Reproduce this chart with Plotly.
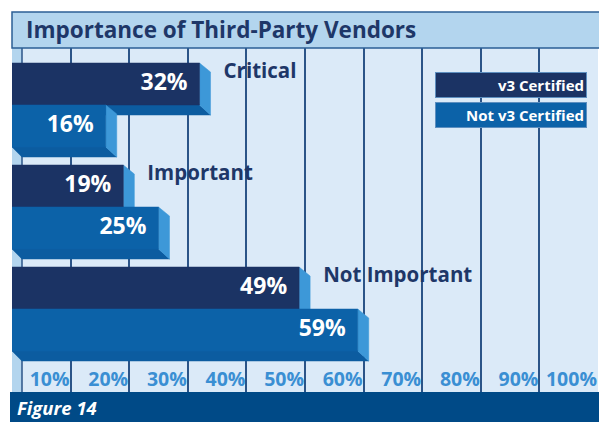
import plotly.graph_objects as go

# data
categories = ["Critical", "Important", "Not Important"]
v3_certified = [32, 19, 49]
not_v3_certified = [16, 25, 59]
series_names = ["v3 Certified", "Not v3 Certified"]
tick_values = [10, 20, 30, 40, 50, 60, 70, 80, 90, 100]
tick_labels = ["10%", "20%", "30%", "40%", "50%", "60%", "70%", "80%", "90%", "100%"]

W, H = 599, 422
L, R, T, B = 12, 1, 48, 30
PW = W - L - R          # plot width in px
PH = H - T - B          # plot height in px
PX = 100 / PW           # one pixel in x data units

FONT = "Open Sans"
NAVY = "#1b3364"
BLUE = "#0c62a8"
SIDE = "#3d98d8"
DEPTH = "#0c5ca0"

BAR_H = 42
PITCH = 102
TOP0 = 15
DX = 11 * PX
DY = 10


def poly(xs, ys, color):
    return go.Scatter(x=xs + [xs[0]], y=ys + [ys[0]], mode="lines", fill="toself",
                      fillcolor=color, line=dict(color=color, width=0.5),
                      hoverinfo="skip", showlegend=False)


def bar3d(value, top, face):
    bot = top + BAR_H
    return [
        poly([0, value, value + DX, 0.9 * DX], [bot, bot, bot + DY, bot + DY], DEPTH),
        poly([value, value + DX, value + DX, value], [top, top + DY * 0.9, bot + DY, bot], SIDE),
        poly([0, value, value, 0], [top, top, bot, bot], face),
    ]


fig = go.Figure()

for i, cat in enumerate(categories):
    top_a = TOP0 + PITCH * i
    top_b = top_a + BAR_H
    for tr in bar3d(v3_certified[i], top_a, NAVY):
        fig.add_trace(tr)
    for tr in bar3d(not_v3_certified[i], top_b, BLUE):
        fig.add_trace(tr)

# value labels inside the bars
for vals, off in ((v3_certified, 0), (not_v3_certified, BAR_H)):
    fig.add_trace(go.Scatter(
        x=[v - 12 * PX for v in vals],
        y=[TOP0 + PITCH * i + off + BAR_H / 2 for i in range(len(vals))],
        mode="text", text=[f"{v}%" for v in vals], textposition="middle left",
        textfont=dict(family=FONT, size=23, color="white", weight="bold"),
        hoverinfo="skip", showlegend=False))

# category labels next to the dark bars
fig.add_trace(go.Scatter(
    x=[v + 24 * PX for v in v3_certified],
    y=[TOP0 + PITCH * i + 10 for i in range(len(categories))],
    mode="text", text=categories, textposition="middle right",
    textfont=dict(family=FONT, size=20.5, color="#1e3768", weight="bold"),
    hoverinfo="skip", showlegend=False))

shapes = [
    # left strip
    dict(type="rect", xref="x", yref="paper", x0=0, x1=10 * PX, y0=0, y1=1,
         fillcolor="#b3d5ee", line=dict(width=0), layer="below"),
    dict(type="line", xref="x", yref="paper", x0=10 * PX, x1=10 * PX, y0=0, y1=1,
         line=dict(color="#2b5488", width=1.5), layer="below"),
    # title band
    dict(type="rect", xref="paper", yref="paper", x0=0, x1=1.05, y0=1, y1=1 + 36 / PH,
         fillcolor="#b3d5ee", line=dict(color="#2d5f95", width=1.5), layer="above"),
    # footer band
    dict(type="rect", xref="paper", yref="paper", x0=-2 / PW, x1=1.05, y0=-B / PH, y1=0,
         fillcolor="#004a87", line=dict(width=0), layer="above"),
]

annotations = [
    dict(text="Importance of Third-Party Vendors", xref="paper", yref="paper",
         x=12 / PW, y=1 + 18 / PH, xanchor="left", yanchor="middle", showarrow=False,
         font=dict(family=FONT, size=22.5, color="#1e3768", weight="bold")),
    dict(text="<i>Figure 14</i>", xref="paper", yref="paper",
         x=3 / PW, y=-15 / PH, xanchor="left", yanchor="middle", showarrow=False,
         font=dict(family=FONT, size=18.5, color="white", weight="bold")),
]

# legend boxes
for k, (name, col) in enumerate(zip(series_names, [NAVY, BLUE])):
    annotations.append(dict(
        text=name, xref="x", yref="y", x=(587 - L) * PX, y=37 + 30 * k,
        xanchor="right", yanchor="middle", showarrow=False, align="right",
        width=146, height=20, borderpad=2, bgcolor=col,
        bordercolor="#5d8fc0", borderwidth=1,
        font=dict(family=FONT, size=15, color="white", weight="bold")))

fig.update_layout(
    width=W, height=H,
    margin=dict(l=L, r=R, t=T, b=B),
    paper_bgcolor="white", plot_bgcolor="#dbeaf8",
    showlegend=False,
    shapes=shapes, annotations=annotations,
    xaxis=dict(range=[0, 100], tickvals=tick_values, ticktext=tick_labels,
               showgrid=True, gridcolor="#2b5488", gridwidth=1.5,
               zeroline=False, showline=False, ticks="",
               ticklabelposition="inside left", ticklabelstandoff=-4,
               ticklabelshift=-1,
               tickfont=dict(family=FONT, size=19.5, color="#3a8fd3", weight="bold"),
               fixedrange=True),
    yaxis=dict(range=[PH, 0], showgrid=False, zeroline=False, showticklabels=False,
               fixedrange=True),
)

fig.write_html("out.html", config={"displayModeBar": False},
               post_script="document.body.style.margin='0';")
